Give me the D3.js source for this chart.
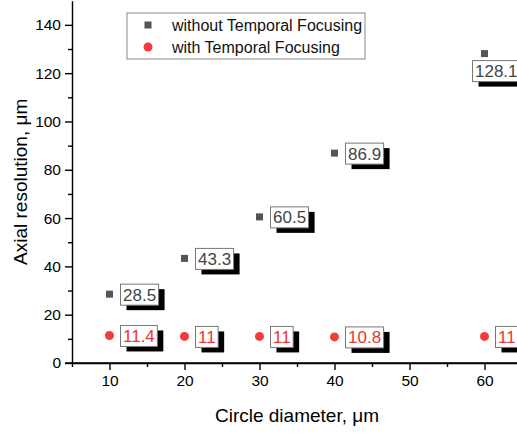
<!DOCTYPE html>
<html>
<head>
<meta charset="utf-8">
<script src="https://cdn.jsdelivr.net/npm/d3@7"></script>
<style>
  body { margin: 0; background: #fff; }
  svg { display: block; font-family: Arial, "Liberation Sans", sans-serif; }
</style>
</head>
<body>
<div id="chart"></div>
<script>
// circle diameter (µm)
const diameters = [10, 20, 30, 40, 60];
const withoutTF = [28.5, 43.3, 60.5, 86.9, 128.1];
const withTF = [11.4, 11, 11, 10.8, 11];
const seriesNames = ["without Temporal Focusing", "with Temporal Focusing"];
const xTicks = [10, 20, 30, 40, 50, 60];
const yTicks = [0, 20, 40, 60, 80, 100, 120, 140];

const width = 517, height = 434;
const grey = "#555555", red = "#f23c3c";

const svg = d3.select("#chart").append("svg")
  .attr("width", width).attr("height", height);

const x = d3.scaleLinear().domain([5, 65]).range([72, 522]);
const y = d3.scaleLinear().domain([0, 150]).range([363, 0.7]);

// minor ticks
const axisG = svg.append("g");
axisG.append("g")
  .attr("transform", `translate(0,${y(0)})`)
  .call(d3.axisBottom(x).tickValues(d3.range(5, 66, 10)).tickSize(4).tickFormat(""))
  .call(g => g.select(".domain").remove());
axisG.append("g")
  .attr("transform", `translate(${x(5)},0)`)
  .call(d3.axisLeft(y).tickValues(d3.range(10, 150, 20)).tickSize(4).tickFormat(""))
  .call(g => g.select(".domain").remove());

// major axes
axisG.append("g")
  .attr("transform", `translate(0,${y(0)})`)
  .call(d3.axisBottom(x).tickValues(xTicks).tickSize(7).tickSizeOuter(0).tickPadding(5));
axisG.append("g")
  .attr("transform", `translate(${x(5)},0)`)
  .call(d3.axisLeft(y).tickValues(yTicks).tickSize(7).tickSizeOuter(0).tickPadding(4));

// extend x axis line to the left like Origin does
axisG.append("line")
  .attr("x1", x(5) - 7).attr("x2", width)
  .attr("y1", y(0)).attr("y2", y(0))
  .attr("stroke", "#000").attr("stroke-width", 1.4);

axisG.selectAll(".domain, .tick line").attr("stroke", "#000").attr("stroke-width", 1.4);
axisG.selectAll(".tick text").attr("font-size", 15.5).attr("fill", "#000")
  .attr("font-family", "Arial, 'Liberation Sans', sans-serif");

// axis titles
svg.append("text")
  .attr("x", (x(5) + x(65)) / 2).attr("y", 422)
  .attr("text-anchor", "middle").attr("font-size", 19)
  .text("Circle diameter, \u03bcm");
svg.append("text")
  .attr("transform", `translate(27,${(y(0) + y(150)) / 2}) rotate(-90)`)
  .attr("text-anchor", "middle").attr("font-size", 19)
  .text("Axial resolution, \u03bcm");

// data
const series = [
  { name: seriesNames[0], values: withoutTF, color: grey, text: "#444", shape: "square" },
  { name: seriesNames[1], values: withTF, color: red, text: "#ee3434", shape: "circle" }
];

series.forEach(s => {
  const pts = diameters.map((d, i) => ({ x: d, y: s.values[i] }));
  const g = svg.append("g");

  if (s.shape === "square") {
    g.selectAll("rect.mark").data(pts).enter().append("rect")
      .attr("class", "mark")
      .attr("x", d => x(d.x) - 3.5).attr("y", d => y(d.y) - 3.5)
      .attr("width", 7).attr("height", 7).attr("fill", s.color);
  } else {
    g.selectAll("circle.mark").data(pts).enter().append("circle")
      .attr("class", "mark")
      .attr("cx", d => x(d.x)).attr("cy", d => y(d.y))
      .attr("r", 4.5).attr("fill", s.color);
  }

  // value labels with drop shadow
  pts.forEach(d => {
    const lbl = g.append("g");
    const shadow = lbl.append("rect").attr("fill", "#000");
    const box = lbl.append("rect").attr("fill", "#fff").attr("stroke", "#777").attr("stroke-width", 1);
    const t = lbl.append("text").attr("font-size", 17).attr("fill", s.text).text(String(d.y));
    const tw = t.node().getComputedTextLength();
    const bw = tw + 5, bh = 21;
    let bx = x(d.x) + 11, by = y(d.y) - 10;
    if (d.y > 100) { bx = x(d.x) - 12; by = y(d.y) + 7; }
    box.attr("x", bx).attr("y", by).attr("width", bw).attr("height", bh);
    shadow.attr("x", bx + 6).attr("y", by + 5).attr("width", bw).attr("height", bh);
    t.attr("x", bx + 2.5).attr("y", by + 16.5);
  });
});

// legend
const legend = svg.append("g");
legend.append("rect")
  .attr("x", 127).attr("y", 13).attr("width", 238).attr("height", 46)
  .attr("fill", "#fff").attr("stroke", "#888").attr("stroke-width", 1);
series.forEach((s, i) => {
  const cy = 25 + i * 22;
  if (s.shape === "square") {
    legend.append("rect").attr("x", 144.5).attr("y", cy - 3.5)
      .attr("width", 7).attr("height", 7).attr("fill", s.color);
  } else {
    legend.append("circle").attr("cx", 148).attr("cy", cy).attr("r", 4.5).attr("fill", s.color);
  }
  legend.append("text").attr("x", 172).attr("y", cy + 6)
    .attr("font-size", 16).attr("fill", "#111").text(s.name);
});
</script>
</body>
</html>
